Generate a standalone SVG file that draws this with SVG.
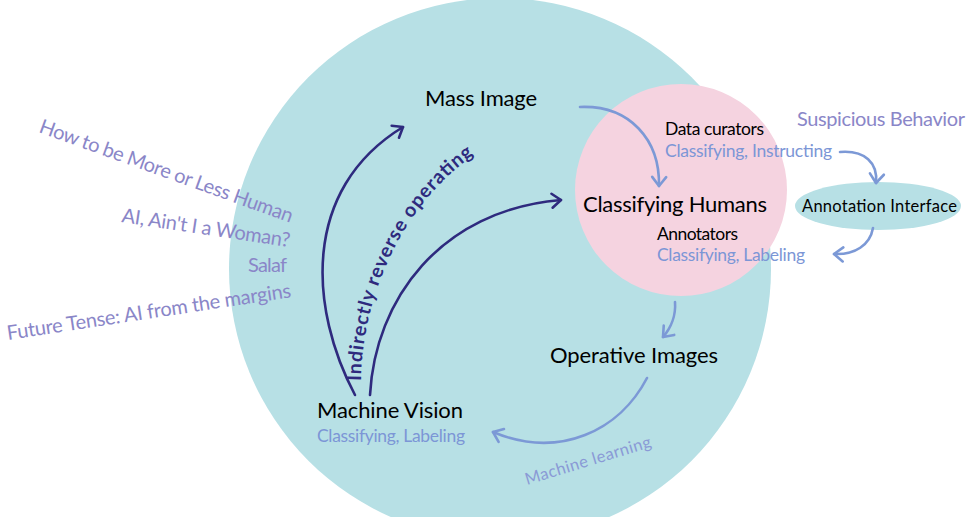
<svg xmlns="http://www.w3.org/2000/svg" width="971" height="517" viewBox="0 0 971 517">
<style>
text{font-family:Lato,"Open Sans","Liberation Sans",sans-serif;}
.big{font-size:22px;fill:#000;}
.mid{font-size:17.5px;fill:#000;}
.blue{font-size:17.5px;fill:#7c96d6;}
.purple{font-size:20px;fill:#8a86c8;}
.navy{stroke:#2e2a7e;stroke-width:2.6;fill:none;stroke-linecap:round;}
.bl{stroke:#7c99d6;stroke-width:2.6;fill:none;stroke-linecap:round;}
</style>
<defs>
<marker id="hNavy" viewBox="-12 -10 16 20" refX="0" refY="0" markerWidth="16" markerHeight="20" markerUnits="userSpaceOnUse" orient="auto" overflow="visible">
<path d="M -9 -7 L 0 0 L -9 7" fill="none" stroke="#2e2a7e" stroke-width="2.6" stroke-linecap="round" stroke-linejoin="round"/>
</marker>
<marker id="hBlue" viewBox="-12 -10 16 20" refX="0" refY="0" markerWidth="16" markerHeight="20" markerUnits="userSpaceOnUse" orient="auto" overflow="visible">
<path d="M -9 -7 L 0 0 L -9 7" fill="none" stroke="#7c99d6" stroke-width="2.6" stroke-linecap="round" stroke-linejoin="round"/>
</marker>
<path id="curveText" d="M 361 381 C 362 300, 400 200, 487 146"/>
</defs>

<g id="outer-circle"><circle cx="500" cy="269" r="271" fill="#b7e0e5"/></g>
<g id="classifying-humans">
<circle cx="681" cy="190" r="106" fill="#f5d3e0"/>
<text class="mid" x="665" y="135" textLength="99">Data curators</text>
<text class="blue" x="665" y="157" textLength="167">Classifying, Instructing</text>
<text class="big" x="583" y="212" textLength="184">Classifying Humans</text>
<text class="mid" x="657" y="240" textLength="81">Annotators</text>
<text class="blue" x="657" y="261" textLength="148">Classifying, Labeling</text>
</g>
<g id="annotation-interface">
<ellipse cx="878" cy="206" rx="83" ry="24" fill="#b7e0e5"/>
<text x="802" y="212" font-size="16.5" fill="#000" textLength="155">Annotation Interface</text>
</g>
<g id="suspicious-behavior"><text class="purple" x="797" y="126" textLength="168">Suspicious Behavior</text></g>
<g id="mass-image"><text class="big" x="425" y="106" textLength="112">Mass Image</text></g>
<g id="operative-images"><text class="big" x="550" y="363" textLength="168">Operative Images</text></g>
<g id="machine-vision">
<text class="big" x="317" y="418" textLength="146">Machine Vision</text>
<text class="blue" x="317" y="442" textLength="148">Classifying, Labeling</text>
</g>
<g id="references">
<text class="purple" transform="translate(38,132) rotate(19.8)" textLength="268">How to be More or Less Human</text>
<text class="purple" transform="translate(121,222) rotate(8.5)" textLength="170">AI, Ain't I a Woman?</text>
<text class="purple" x="248" y="272" textLength="39">Salaf</text>
<text class="purple" transform="translate(8,340) rotate(-8.6)" textLength="287">Future Tense: AI from the margins</text>
</g>

<g id="connectors">
<path class="navy" d="M 355 395 C 310 310, 300 190, 403 127" marker-end="url(#hNavy)"/>
<path class="navy" d="M 370 395 C 375 300, 440 210, 561 200" marker-end="url(#hNavy)"/>
<text font-size="19.5" font-weight="bold" fill="#2e2a7e"><textPath href="#curveText" textLength="262">Indirectly reverse operating</textPath></text>
<path class="bl" d="M 580 107 C 630 105, 660 140, 659 186" marker-end="url(#hBlue)"/>
<path class="bl" d="M 840 152 C 865 150, 878 163, 876 183" marker-end="url(#hBlue)"/>
<path class="bl" d="M 873 228 C 870 245, 855 255, 834 254" marker-end="url(#hBlue)"/>
<path class="bl" d="M 675 302 C 676 315, 671 328, 663 337" marker-end="url(#hBlue)"/>
<path class="bl" d="M 647 378 C 620 430, 560 460, 493 432" marker-end="url(#hBlue)"/>
<text transform="translate(527,485) rotate(-17)" font-size="16.5" fill="#8a9ad6" textLength="131">Machine learning</text>
</g>
</svg>
